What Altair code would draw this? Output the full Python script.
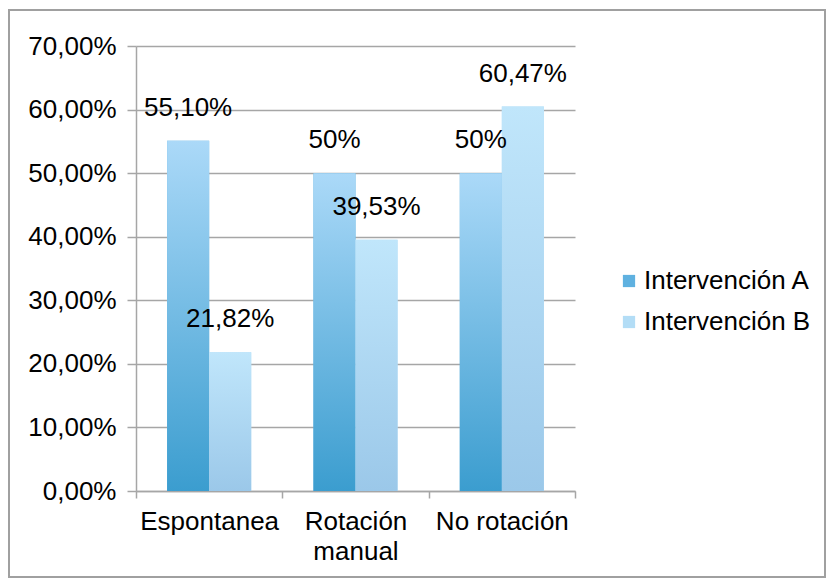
import altair as alt
import pandas as pd

categories = ["Espontanea", "Rotación manual", "No rotación"]
series = ["Intervención A", "Intervención B"]
values_a = [55.10, 50.0, 50.0]
values_b = [21.82, 39.53, 60.47]
labels_a = ["55,10%", "50%", "50%"]
labels_b = ["21,82%", "39,53%", "60,47%"]
y_ticks = [0, 10, 20, 30, 40, 50, 60, 70]

rows = []
for c, v, l in zip(categories, values_a, labels_a):
    rows.append({"cat": c, "series": series[0], "value": v, "label": l})
for c, v, l in zip(categories, values_b, labels_b):
    rows.append({"cat": c, "series": series[1], "value": v, "label": l})
df = pd.DataFrame(rows)

FONT = "Liberation Sans"
GRID = "#a6a6a6"
FS = 26

grad_a = alt.Gradient(
    gradient="linear",
    stops=[alt.GradientStop(offset=0, color="#3b9dcf"),
           alt.GradientStop(offset=1, color="#abd9f8")],
    x1=0, x2=0, y1=1, y2=0,
)
grad_b = alt.Gradient(
    gradient="linear",
    stops=[alt.GradientStop(offset=0, color="#9bc8e9"),
           alt.GradientStop(offset=1, color="#c0e6fb")],
    x1=0, x2=0, y1=1, y2=0,
)

x_enc = alt.X(
    "cat:N", sort=categories, title=None,
    scale=alt.Scale(paddingInner=0, paddingOuter=0),
    axis=alt.Axis(
        labelAngle=0, labelFont=FONT, labelFontSize=FS, labelColor="#000000",
        labelPadding=10, labelLineHeight=30,
        labelExpr="datum.value == 'Rotación manual' ? ['Rotación', 'manual'] : datum.value",
        tickBand="extent", tickSize=7, tickColor=GRID, domainColor=GRID,
        tickWidth=1.5, domainWidth=1.5, grid=False,
    ),
)
xoff = alt.XOffset("series:N", scale=alt.Scale(domain=series, paddingInner=0, paddingOuter=0.74))
y_enc = alt.Y(
    "value:Q", title=None,
    scale=alt.Scale(domain=[0, 70], nice=False),
    axis=alt.Axis(
        values=y_ticks,
        labelExpr="replace(format(datum.value, '.2f'), '.', ',') + '%'",
        labelFont=FONT, labelFontSize=FS, labelColor="#000000", labelPadding=11,
        tickSize=9, tickColor=GRID, tickWidth=1.5, domainColor=GRID, domainWidth=1.5,
        grid=True, gridColor=GRID, gridWidth=1.5,
    ),
)

base = alt.Chart(df).encode(x=x_enc, xOffset=xoff, y=y_enc)

legend_bars = base.mark_bar().encode(
    color=alt.Color(
        "series:N",
        scale=alt.Scale(domain=series, range=["#5fb1e0", "#b3ddf6"]),
        legend=alt.Legend(
            title=None, orient="none", legendX=480, legendY=222, padding=0,
            symbolType="square", symbolSize=150, symbolStrokeWidth=0,
            labelFont=FONT, labelFontSize=FS, labelColor="#000000",
            labelOffset=2, rowPadding=15, labelLimit=400,
        ),
    )
)

bars_a = base.transform_filter(alt.datum.series == series[0]).mark_bar(color=grad_a)
bars_b = base.transform_filter(alt.datum.series == series[1]).mark_bar(color=grad_b)

text = base.mark_text(
    baseline="bottom", dy=-20, font=FONT, fontSize=FS, color="#000000"
).encode(text="label:N")

frame = alt.Chart(df).mark_rect(
    fill=None, stroke="#a0a0a0", strokeWidth=1.5
).encode(
    x=alt.value(-127), x2=alt.value(689),
    y=alt.value(-36), y2=alt.value(531),
)

chart = alt.layer(frame, legend_bars, bars_a, bars_b, text).properties(
    width=439, height=445,
    autosize=alt.AutoSizeParams(type="none"),
    padding={"left": 128, "top": 38, "right": 252, "bottom": 89},
    background="#ffffff",
).configure_view(stroke=None)

chart.save("out.html", embed_options={"renderer": "svg", "actions": False})
